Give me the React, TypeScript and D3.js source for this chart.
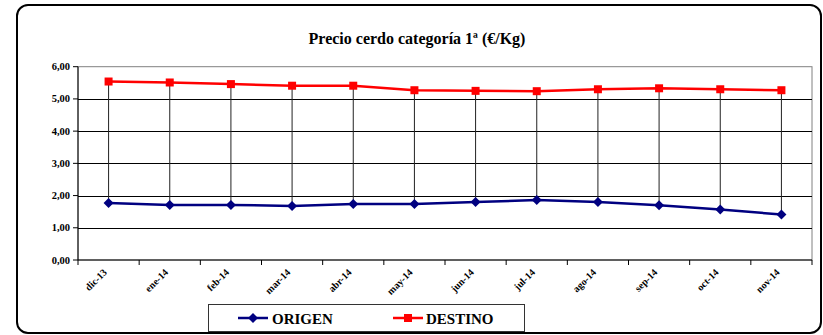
import React from "react";
import * as d3 from "d3";

const categories = ["dic-13","ene-14","feb-14","mar-14","abr-14","may-14","jun-14","jul-14","ago-14","sep-14","oct-14","nov-14"];
const origen = [1.77,1.71,1.71,1.68,1.74,1.74,1.80,1.86,1.80,1.70,1.57,1.41];
const destino = [5.54,5.51,5.46,5.41,5.41,5.27,5.25,5.24,5.30,5.33,5.30,5.27];
const yTicks = [0,1,2,3,4,5,6];
const title = "Precio cerdo categoría 1ª (€/Kg)";

const W = 823, H = 335;
const plot = { left: 78, right: 812, top: 66.7, bottom: 260 };
const FONT = "Liberation Serif, DejaVu Serif, serif";
const ts = (size: number) => ({ fontFamily: FONT, fontSize: size, fontWeight: 700 as const });

export default function App() {
  const x = d3.scaleBand<string>().domain(categories).range([plot.left, plot.right]);
  const cx = (c: string) => (x(c) as number) + x.bandwidth() / 2;
  const y = d3.scaleLinear().domain([0, 6]).range([plot.bottom, plot.top]);
  const line = d3.line<number>().x((_, i) => cx(categories[i])).y(d => y(d));
  const fmt = (v: number) => v.toFixed(2).replace(".", ",");
  const boundaries = categories.map(c => x(c) as number).concat([plot.right]);
  const diamond = (px: number, py: number, r = 5) => `M${px},${py - r}L${px + r},${py}L${px},${py + r}L${px - r},${py}Z`;

  return (
    <svg width={W} height={H} style={{ position: "fixed", left: 0, top: 0, background: "#fff" }}>
      <rect x={17} y={5} width={804} height={328} rx={11} ry={11} fill="#fff" stroke="#000" strokeWidth={2} />
      <text x={417} y={44} textAnchor="middle" style={ts(16)}>{title}</text>
      <rect x={plot.left} y={plot.top} width={plot.right - plot.left} height={plot.bottom - plot.top} fill="none" stroke="#808080" strokeWidth={1} />
      {yTicks.filter(t => t > 0 && t < 6).map(t => (
        <line key={t} x1={plot.left} x2={plot.right} y1={Math.round(y(t)) + 0.5} y2={Math.round(y(t)) + 0.5} stroke="#000" strokeWidth={1} />
      ))}
      {categories.map((c, i) => (
        <line key={c} x1={cx(c)} x2={cx(c)} y1={y(destino[i])} y2={y(origen[i])} stroke="#222" strokeWidth={1} />
      ))}
      <line x1={plot.left} x2={plot.left} y1={plot.top} y2={plot.bottom} stroke="#000" strokeWidth={1} />
      <line x1={plot.left} x2={plot.right} y1={plot.bottom} y2={plot.bottom} stroke="#000" strokeWidth={1} />
      {yTicks.map(t => (
        <g key={t}>
          <line x1={plot.left - 5} x2={plot.left} y1={y(t)} y2={y(t)} stroke="#000" />
          <text x={70} y={y(t) + 3.5} textAnchor="end" style={ts(10.5)}>{fmt(t)}</text>
        </g>
      ))}
      {boundaries.map((b, i) => (
        <line key={i} x1={b} x2={b} y1={plot.bottom} y2={plot.bottom + 5} stroke="#000" />
      ))}
      {categories.map(c => (
        <text key={c} transform={`translate(${cx(c) - 1},${plot.bottom + 13}) rotate(-45)`} textAnchor="end" style={ts(10)}>{c}</text>
      ))}
      <path d={line(origen) || ""} fill="none" stroke="#000080" strokeWidth={2.5} />
      <path d={line(destino) || ""} fill="none" stroke="#FF0000" strokeWidth={2.5} />
      {origen.map((v, i) => (
        <path key={i} d={diamond(cx(categories[i]), y(v))} fill="#000080" />
      ))}
      {destino.map((v, i) => (
        <rect key={i} x={cx(categories[i]) - 4} y={y(v) - 4} width={8} height={8} fill="#FF0000" />
      ))}
      <rect x={208.5} y={304.5} width={316} height={27} fill="#fff" stroke="#333" strokeWidth={1} />
      <line x1={238} x2={268} y1={318} y2={318} stroke="#000080" strokeWidth={2.5} />
      <path d={diamond(253, 318)} fill="#000080" />
      <text x={272} y={323.5} style={ts(15)}>ORIGEN</text>
      <line x1={393} x2={423} y1={318} y2={318} stroke="#FF0000" strokeWidth={2.5} />
      <rect x={404} y={314} width={8} height={8} fill="#FF0000" />
      <text x={426} y={323.5} style={ts(15)}>DESTINO</text>
    </svg>
  );
}
